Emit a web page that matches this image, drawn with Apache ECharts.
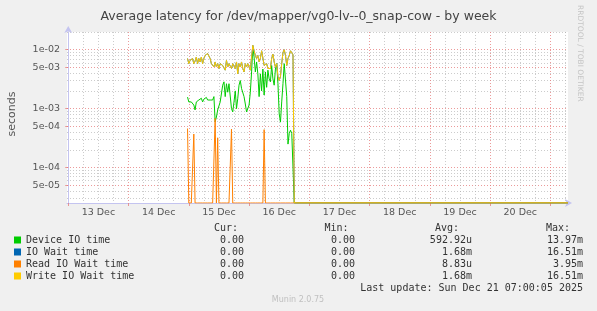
<!DOCTYPE html>
<html><head><meta charset="utf-8">
<script src="https://cdn.jsdelivr.net/npm/echarts@6/dist/echarts.min.js"></script>
<style>html,body{margin:0;padding:0;background:#f0f0f0}#c{width:597px;height:311px}</style>
</head><body><div id="c"></div>
<script>
// ---------- data ----------
const titleText = 'Average latency for /dev/mapper/vg0-lv--0_snap-cow - by week';
const dayLabels = ['13 Dec', '14 Dec', '15 Dec', '16 Dec', '17 Dec', '18 Dec', '19 Dec', '20 Dec'];
const yLabelValues = [5e-5, 1e-4, 5e-4, 1e-3, 5e-3, 1e-2];
// sample times: hours since 13 Dec 00:00
const startHour = 47.5;
const stepHours = 0.5;
const endHour = 199;   // 21 Dec 07:00
const deviceIO = [
  1.57e-3, 1.3e-3, 1.38e-3, 1.3e-3, 1.35e-3, 1.15e-3, 9.5e-4, 1.3e-3, 1.3e-3, 1.4e-3,
  1.3e-3, 1.5e-3, 1.3e-3, 1.45e-3, 1.4e-3, 1.55e-3, 1.4e-3, 1.5e-3, 1.4e-3, 1.45e-3,
  1.4e-3, 1.6e-3, 6.0e-4, 7.2e-4, 9.5e-4, 1.0e-3, 1.3e-3, 1.4e-3, 2.5e-3, 2.85e-3,
  1.6e-3, 2.65e-3, 1.9e-3, 2.65e-3, 2.85e-3, 1.0e-3, 8.8e-4, 1.3e-3, 2.0e-3, 1.0e-3,
  1.5e-3, 2.5e-3, 3.0e-3, 2.2e-3, 2.3e-3, 1.6e-3, 1.2e-3, 8.8e-4, 8.2e-4, 1.15e-3,
  1.9e-3, 4.2e-3, 1.1e-2, 7.5e-3, 4.2e-3, 6.2e-3, 3.9e-3, 1.6e-3, 3.9e-3, 2.0e-3,
  4.7e-3, 1.7e-3, 4.2e-3, 2.3e-3, 4.5e-3, 3.2e-3, 2.85e-3, 5.4e-3, 3.2e-3, 2.5e-3,
  4.7e-3, 5.8e-3, 2.65e-3, 8.2e-4, 5.9e-4, 1.3e-3, 2.65e-3, 5.8e-3, 6.2e-3, 1.6e-3,
  2.5e-4, 3.8e-4, 4.3e-4, 3.8e-4, 1.0e-4, 0
];
const writeIOWait = [
  7.1e-3, 5.8e-3, 6.6e-3, 6.2e-3, 7.1e-3, 5.8e-3, 6.4e-3, 7.5e-3, 5.8e-3, 7.1e-3,
  6.2e-3, 7.5e-3, 5.8e-3, 7.1e-3, 8.0e-3, 8.3e-3, 8.6e-3, 8.8e-3, 7.1e-3, 5.8e-3,
  6.2e-3, 5.1e-3, 6.2e-3, 5.1e-3, 5.8e-3, 4.8e-3, 5.8e-3, 6.2e-3, 5.4e-3, 5.8e-3,
  4.5e-3, 6.6e-3, 5.1e-3, 5.8e-3, 6.2e-3, 4.8e-3, 5.8e-3, 6.2e-3, 4.8e-3, 6.2e-3,
  3.9e-3, 5.8e-3, 5.1e-3, 6.2e-3, 4.8e-3, 4.2e-3, 5.8e-3, 5.1e-3, 5.8e-3, 6.2e-3,
  4.5e-3, 7.5e-3, 1.19e-2, 9.6e-3, 8.0e-3, 7.1e-3, 8.0e-3, 6.2e-3, 7.1e-3, 9.6e-3,
  1.0e-2, 5.4e-3, 5.1e-3, 5.8e-3, 4.8e-3, 5.1e-3, 4.8e-3, 7.1e-3, 8.4e-3, 6.2e-3,
  5.1e-3, 5.8e-3, 3.5e-3, 3.0e-3, 3.5e-3, 5.8e-3, 9.0e-3, 1.0e-2, 8.0e-3, 5.4e-3,
  7.1e-3, 8.0e-3, 9.6e-3, 9.0e-3, 8.2e-3, 0
];
const ioWait = [
  7.1e-3, 5.8e-3, 6.6e-3, 6.2e-3, 7.1e-3, 5.8e-3, 6.4e-3, 7.5e-3, 5.8e-3, 7.1e-3,
  6.2e-3, 7.5e-3, 5.8e-3, 7.1e-3, 8.0e-3, 8.3e-3, 8.6e-3, 8.8e-3, 7.1e-3, 5.8e-3,
  6.2e-3, 5.1e-3, 6.2e-3, 5.1e-3, 5.8e-3, 4.8e-3, 5.8e-3, 6.2e-3, 5.4e-3, 5.8e-3,
  4.5e-3, 6.6e-3, 5.1e-3, 5.8e-3, 6.2e-3, 4.8e-3, 5.8e-3, 6.2e-3, 4.8e-3, 6.2e-3,
  3.9e-3, 5.8e-3, 5.1e-3, 6.2e-3, 4.8e-3, 4.2e-3, 5.8e-3, 5.1e-3, 5.8e-3, 6.2e-3,
  4.5e-3, 7.5e-3, 1.19e-2, 9.6e-3, 8.0e-3, 7.1e-3, 8.0e-3, 6.2e-3, 7.1e-3, 9.6e-3,
  1.0e-2, 5.4e-3, 5.1e-3, 5.8e-3, 4.8e-3, 5.1e-3, 4.8e-3, 7.1e-3, 8.4e-3, 6.2e-3,
  5.1e-3, 5.8e-3, 3.5e-3, 3.0e-3, 3.5e-3, 5.8e-3, 9.0e-3, 1.0e-2, 8.0e-3, 5.4e-3,
  7.1e-3, 8.0e-3, 9.6e-3, 9.0e-3, 8.2e-3, 0
];
const readIOWait = [
  4.6e-4, 0, 0, 0, 0, 3.7e-4, 0, 0, 0, 0,
  0, 0, 0, 0, 0, 0, 0, 0, 0, 0,
  0, 0, 6.8e-4, 0, 3.2e-4, 0, 0, 0, 0, 0,
  0, 0, 0, 0, 0, 4.5e-4, 0, 0, 0, 0,
  0, 0, 0, 0, 0, 0, 0, 0, 0, 0,
  0, 0, 0, 0, 0, 0, 0, 0, 0, 0,
  0, 4.4e-4, 0, 0, 0, 0, 0, 0, 0, 0,
  0, 0, 0, 0, 0, 0, 0, 0, 0, 0,
  0, 0, 0, 0, 0, 0
];
const legendNames = ['Device IO time', 'IO Wait time', 'Read IO Wait time', 'Write IO Wait time'];
const curValues = ['0.00', '0.00', '0.00', '0.00'];
const minValues = ['0.00', '0.00', '0.00', '0.00'];
const avgValues = ['592.92u', '1.68m', '8.83u', '1.68m'];
const maxValues = ['13.97m', '16.51m', '3.95m', '16.51m'];
const lastUpdate = 'Last update: Sun Dec 21 07:00:05 2025';
const versionText = 'Munin 2.0.75';
const sideText = 'RRDTOOL / TOBI OETIKER';

// ---------- styling / helpers ----------
const Y_MIN = 2.5e-5, Y_MAX = 2e-2;
const X_MIN = -0.5;
const colors = ['#00cc00', '#0066b3', '#ff8000', '#ffcc00'];
const MAJOR = 'rgba(230,120,120,0.75)';
const MINOR = 'rgba(170,170,170,0.6)';
const AXIS = '#c4c4f0';

function pairs(arr) {
  const out = arr.map((v, i) => [startHour + i * stepHours, v === 0 ? Y_MIN : v]);
  out.push([endHour, Y_MIN]);
  return out;
}
function fmtExp(v) {
  const e = Math.floor(Math.log10(v) + 1e-9);
  const m = Math.round(v / Math.pow(10, e));
  const s = e < 0 ? '-' : '+';
  const a = Math.abs(e);
  return m + 'e' + s + (a < 10 ? '0' + a : a);
}
const yMinor = [];
for (let d = -5; d <= -2; d++) {
  for (const k of [2, 3, 4, 6, 7, 8, 9]) {
    const v = k * Math.pow(10, d);
    if (v > Y_MIN && v <= Y_MAX * 1.0001) yMinor.push(v);
  }
}
const xMajor = [], xMinor = [], xLabels = [];
for (let h = 0; h <= endHour; h += 6) {
  if (h % 24 === 0) xMajor.push(h); else xMinor.push(h);
}
dayLabels.forEach((d, i) => xLabels.push(12 + 24 * i));

const seriesDefs = [
  ['Device IO time', deviceIO, colors[0]],
  ['IO Wait time', ioWait, colors[1]],
  ['Read IO Wait time', readIOWait, colors[2]],
  ['Write IO Wait time', writeIOWait, colors[3]]
];

const chart = echarts.init(document.getElementById('c'), null, {renderer: 'canvas'});

const graphics = [];
graphics.push({type: 'text', left: 'center', top: 10, style: {text: titleText, font: '12.5px "DejaVu Sans"', fill: '#444'}});
graphics.push({type: 'text', x: 584, y: 5, rotation: -Math.PI / 2, style: {text: sideText, font: '7.5px "DejaVu Sans"', fill: '#c4c4c4'}});
graphics.push({type: 'text', x: 12, y: 114, rotation: Math.PI / 2, style: {text: 'seconds', font: '11px "DejaVu Sans"', fill: '#555', align: 'center', verticalAlign: 'middle'}});
const mono = '10px "DejaVu Sans Mono"';
const hdrY = 228, rowY0 = 240, rowDY = 12;
[['Cur:', 238], ['Min:', 348.5], ['Avg:', 459], ['Max:', 570]].forEach(([t, x]) => {
  graphics.push({type: 'text', x: x, y: hdrY, style: {text: t, font: mono, fill: '#333', align: 'right', verticalAlign: 'middle'}});
});
legendNames.forEach((n, i) => {
  const y = rowY0 + i * rowDY;
  graphics.push({type: 'rect', shape: {x: 14, y: y - 3.5, width: 7, height: 7}, style: {fill: colors[i]}});
  graphics.push({type: 'text', x: 26, y: y, style: {text: n, font: mono, fill: '#333', verticalAlign: 'middle'}});
  [[curValues, 244], [minValues, 355], [avgValues, 472], [maxValues, 583]].forEach(([arr, x]) => {
    graphics.push({type: 'text', x: x, y: y, style: {text: arr[i], font: mono, fill: '#333', align: 'right', verticalAlign: 'middle'}});
  });
});
graphics.push({type: 'text', x: 583, y: 288, style: {text: lastUpdate, font: mono, fill: '#333', align: 'right', verticalAlign: 'middle'}});
graphics.push({type: 'text', x: 298, y: 300, style: {text: versionText, font: '8px "DejaVu Sans"', fill: '#c0c0c0', align: 'center', verticalAlign: 'middle'}});

const dotted = [1, 2];
chart.setOption({
  animation: false,
  backgroundColor: '#f0f0f0',
  grid: {left: 67, right: 29, top: 32, bottom: 108, show: true, backgroundColor: '#ffffff', borderWidth: 0},
  xAxis: [
    {
      type: 'value', min: X_MIN, max: endHour, position: 'bottom',
      axisLine: {show: true, lineStyle: {color: AXIS, width: 1}, symbol: ['none', 'arrow'], symbolSize: [6, 7], symbolOffset: [0, 4]},
      axisTick: {show: true, customValues: xMajor, length: 3, lineStyle: {color: MAJOR}},
      axisLabel: {customValues: xLabels, margin: 5, color: '#555', fontFamily: 'DejaVu Sans', fontSize: 9.5,
        formatter: v => dayLabels[Math.round((v - 12) / 24)]},
      splitLine: {show: true, lineStyle: {color: MAJOR, type: dotted, width: 1}}
    },
    {
      type: 'value', min: X_MIN, max: endHour, position: 'bottom', show: true,
      axisLine: {show: false}, axisLabel: {show: false},
      axisTick: {show: false, customValues: xMinor},
      splitLine: {show: true, lineStyle: {color: MINOR, type: dotted, width: 1}}
    }
  ],
  yAxis: [
    {
      type: 'log', min: Y_MIN, max: Y_MAX, logBase: 10,
      axisLine: {show: true, lineStyle: {color: AXIS, width: 1}, symbol: ['none', 'arrow'], symbolSize: [6, 7], symbolOffset: [0, 6]},
      axisTick: {show: true, customValues: yLabelValues, length: 3, lineStyle: {color: MAJOR}},
      axisLabel: {customValues: yLabelValues, margin: 7, color: '#555', fontFamily: 'DejaVu Sans', fontSize: 9.5, formatter: v => fmtExp(v)},
      splitLine: {show: true, lineStyle: {color: MAJOR, type: dotted, width: 1}}
    },
    {
      type: 'log', min: Y_MIN, max: Y_MAX, logBase: 10, show: true,
      axisLine: {show: false}, axisLabel: {show: false},
      axisTick: {show: false, customValues: yMinor},
      splitLine: {show: true, lineStyle: {color: MINOR, type: dotted, width: 1}}
    }
  ],
  series: seriesDefs.map(([name, arr, col]) => ({
    name: name, type: 'line', data: pairs(arr), xAxisIndex: 0, yAxisIndex: 0,
    showSymbol: false, symbol: 'none', lineStyle: {color: col, width: 1}, itemStyle: {color: col}, z: 3
  })),
  graphic: graphics
});
</script>
</body></html>
